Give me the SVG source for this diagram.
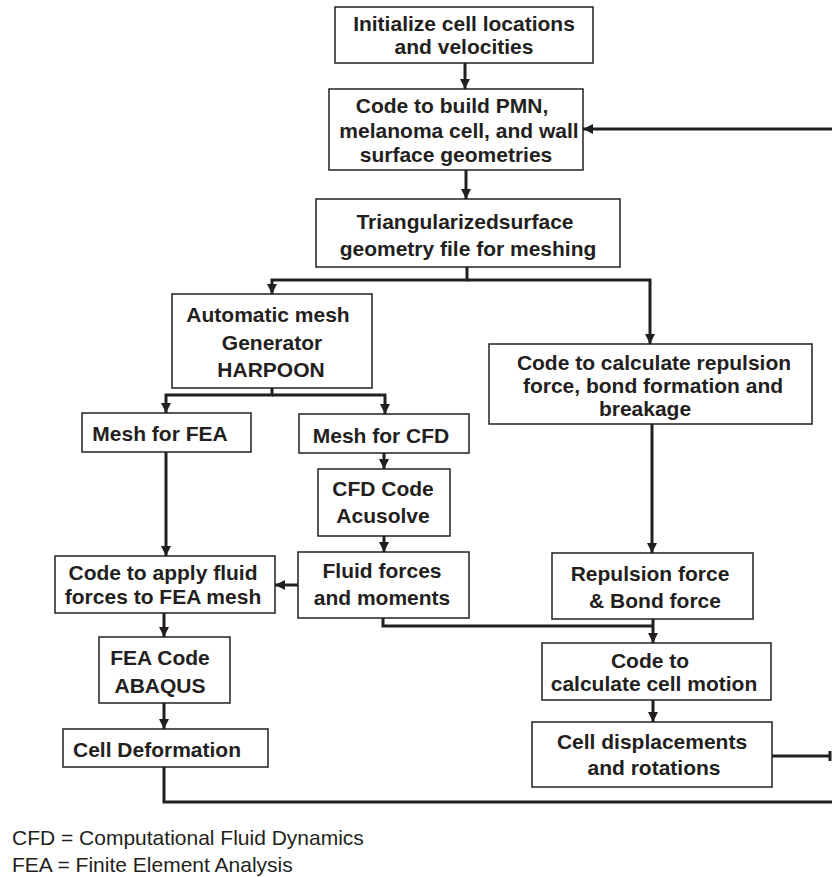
<svg xmlns="http://www.w3.org/2000/svg" width="832" height="877" viewBox="0 0 832 877">
<style>
.box{fill:#fff;stroke:#231f20;stroke-width:1.5}
.t{font-family:"Liberation Sans",Arial,sans-serif;font-weight:bold;font-size:21px;fill:#231f20;text-anchor:middle}
.lg{font-family:"Liberation Sans",Arial,sans-serif;font-size:21px;fill:#231f20}
.c{fill:none;stroke:#231f20;stroke-width:3}
.a{marker-end:url(#ah)}
</style>
<defs>
<marker id="ah" markerUnits="userSpaceOnUse" markerWidth="11" markerHeight="11" refX="10" refY="5" orient="auto">
<path d="M0,0 L10,5 L0,10 z" fill="#231f20"/>
</marker>
</defs>
<rect width="832" height="877" fill="#fff"/>
<g id="connectors">
<path class="c a" d="M465,63 V89"/>
<path class="c a" d="M466,170 V199"/>
<path class="c a" d="M467,267 V280 H272 V294"/>
<path class="c a" d="M467,280 H650 V344"/>
<path class="c a" d="M272,388 V395 H166 V413"/>
<path class="c a" d="M272,395 H385 V414"/>
<path class="c a" d="M166,452 V556"/>
<path class="c a" d="M384,453 V469"/>
<path class="c a" d="M384,536 V552"/>
<path class="c a" d="M298,585 H275"/>
<path class="c a" d="M164,613 V637"/>
<path class="c a" d="M164,703 V729"/>
<path class="c" d="M164,767 V802 H832"/>
<path class="c a" d="M652,424 V553"/>
<path class="c" d="M383,618 V626 H653"/>
<path class="c a" d="M653,619 V643"/>
<path class="c a" d="M653,700 V722"/>
<path class="c" d="M772,756 H830"/>
<path class="c" d="M830,751 V761"/>
<path class="c a" d="M832,129 H583"/>
</g>
<g id="n1"><rect class="box" x="335" y="7" width="258" height="56"/>
<text class="t" x="464" y="31">Initialize cell locations</text><text class="t" x="464" y="54">and velocities</text></g>
<g id="n2"><rect class="box" x="329" y="89" width="254" height="81"/>
<text class="t" x="452" y="113">Code to build PMN,</text><text class="t" x="459" y="138">melanoma cell, and wall</text><text class="t" x="456" y="162">surface geometries</text></g>
<g id="n3"><rect class="box" x="316" y="199" width="304" height="68"/>
<text class="t" x="465" y="229">Triangularizedsurface</text><text class="t" x="468" y="256">geometry file for meshing</text></g>
<g id="n4"><rect class="box" x="172" y="294" width="200" height="94"/>
<text class="t" x="268" y="322">Automatic mesh</text><text class="t" x="272" y="350">Generator</text><text class="t" x="271" y="377">HARPOON</text></g>
<g id="n5"><rect class="box" x="489" y="344" width="323" height="80"/>
<text class="t" x="654" y="370">Code to calculate repulsion</text><text class="t" x="653" y="393">force, bond formation and</text><text class="t" x="645" y="416">breakage</text></g>
<g id="n6"><rect class="box" x="82" y="413" width="169" height="39"/>
<text class="t" x="160" y="441">Mesh for FEA</text></g>
<g id="n7"><rect class="box" x="299" y="414" width="170" height="39"/>
<text class="t" x="381" y="443">Mesh for CFD</text></g>
<g id="n8"><rect class="box" x="318" y="469" width="132" height="67"/>
<text class="t" x="383" y="496">CFD Code</text><text class="t" x="383" y="523">Acusolve</text></g>
<g id="n9"><rect class="box" x="298" y="552" width="171" height="66"/>
<text class="t" x="382" y="578">Fluid forces</text><text class="t" x="382" y="605">and moments</text></g>
<g id="n10"><rect class="box" x="55" y="556" width="220" height="57"/>
<text class="t" x="163" y="580">Code to apply fluid</text><text class="t" x="163" y="604">forces to FEA mesh</text></g>
<g id="n11"><rect class="box" x="99" y="637" width="131" height="66"/>
<text class="t" x="160" y="665">FEA Code</text><text class="t" x="160" y="693">ABAQUS</text></g>
<g id="n12"><rect class="box" x="63" y="729" width="205" height="38"/>
<text class="t" x="157" y="757">Cell Deformation</text></g>
<g id="n13"><rect class="box" x="552" y="553" width="201" height="66"/>
<text class="t" x="650" y="581">Repulsion force</text><text class="t" x="655" y="608">&amp; Bond force</text></g>
<g id="n14"><rect class="box" x="542" y="643" width="229" height="57"/>
<text class="t" x="650" y="668">Code to</text><text class="t" x="654" y="691">calculate cell motion</text></g>
<g id="n15"><rect class="box" x="532" y="722" width="240" height="65"/>
<text class="t" x="652" y="749">Cell displacements</text><text class="t" x="654" y="775">and rotations</text></g>
<g id="legend">
<text class="lg" x="12" y="845">CFD = Computational Fluid Dynamics</text>
<text class="lg" x="12" y="872">FEA = Finite Element Analysis</text>
</g>
</svg>
